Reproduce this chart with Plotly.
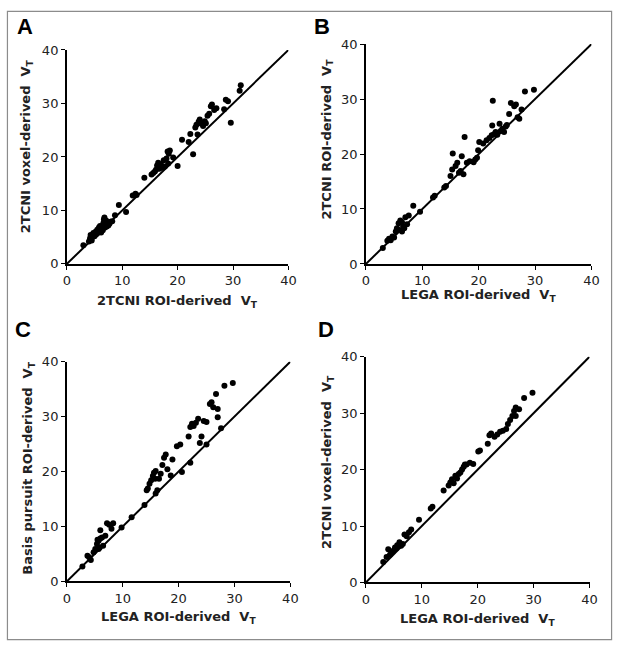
import plotly.graph_objects as go

# ---------------- data ----------------
a_x = [3.0, 4.0, 4.2, 4.3, 4.5, 4.6, 4.8, 5.0, 5.2, 5.3, 5.5, 5.6, 5.8, 5.9, 6.0, 6.1, 6.2, 6.3, 6.4, 6.5,
       6.6, 6.7, 6.8, 6.9, 7.0, 7.1, 7.2, 7.4, 7.5, 7.7, 7.9, 8.2, 8.7, 9.4, 10.7, 11.9, 12.4, 12.6,
       14.0, 15.3, 15.6, 15.9, 16.1, 16.3, 16.5, 16.7, 17.0, 17.3, 17.5, 17.7, 18.0, 18.2, 18.4, 18.6,
       18.3, 19.2, 20.0, 20.8, 22.0, 22.3, 22.8, 23.2, 23.4, 23.6, 23.8, 24.0, 24.3, 24.6, 24.9, 25.1,
       25.4, 25.7, 26.0, 26.2, 26.6, 27.0, 28.4, 28.7, 29.1, 29.6, 31.2, 31.4]
a_y = [3.5, 4.2, 4.8, 5.4, 4.4, 5.0, 5.8, 5.2, 6.0, 5.5, 6.4, 5.8, 6.8, 6.2, 7.1, 6.5, 5.9, 6.6, 7.0, 6.3,
       7.6, 8.3, 8.7, 6.8, 7.3, 8.1, 7.0, 7.8, 7.2, 7.5, 7.9, 8.0, 9.1, 11.0, 9.7, 12.8, 13.1, 12.9,
       16.1, 16.7, 17.0, 17.3, 17.6, 18.4, 18.9, 17.8, 18.6, 18.0, 19.4, 18.2, 19.7, 21.0, 20.6, 21.2,
       18.8, 19.9, 18.3, 23.2, 22.8, 24.3, 20.5, 25.5, 26.0, 24.2, 26.6, 27.0, 26.2, 25.8, 26.7, 26.3,
       27.7, 28.1, 29.5, 29.8, 28.8, 29.1, 28.9, 30.7, 30.4, 26.4, 32.4, 33.4]

b_x = [3.0, 3.8, 4.1, 4.4, 4.7, 5.0, 5.3, 5.5, 5.8, 5.8, 6.1, 6.4, 6.4, 6.6, 6.8, 7.0, 7.3, 7.6, 8.4,
       9.6, 11.9, 12.2, 13.9, 14.2, 15.0, 15.3, 15.4, 15.9, 16.2, 16.5, 16.8, 17.0, 17.3, 17.5, 17.9,
       18.4, 19.1, 19.4, 19.7, 19.9, 20.1, 20.8, 21.4, 21.9, 22.3, 22.4, 22.5, 22.7, 23.0, 23.3, 23.7,
       23.9, 24.2, 24.5, 24.8, 25.0, 25.4, 25.7, 26.3, 26.6, 26.9, 27.2, 27.6, 28.2, 29.8]
b_y = [2.9, 4.2, 4.6, 4.3, 5.0, 4.8, 5.9, 6.5, 6.2, 7.4, 7.9, 5.9, 7.6, 6.8, 6.5, 8.5, 7.2, 8.8, 10.6,
       9.5, 12.1, 12.4, 13.9, 14.2, 16.0, 17.2, 20.1, 17.8, 18.4, 16.6, 16.9, 19.6, 16.3, 23.1, 18.4,
       18.7, 18.5, 19.0, 19.3, 20.7, 22.2, 21.9, 22.5, 22.9, 23.4, 25.2, 29.7, 23.6, 24.0, 23.5, 25.5,
       24.2, 24.6, 24.0, 25.0, 25.3, 27.3, 29.3, 28.7, 29.0, 26.7, 26.4, 28.1, 31.4, 31.7]

c_x = [2.8, 3.7, 4.0, 4.3, 4.8, 5.1, 5.4, 5.5, 5.7, 5.7, 5.9, 6.0, 6.0, 6.3, 6.5, 6.9, 7.2, 7.6, 8.0,
       8.3, 9.8, 11.6, 13.9, 14.3, 14.5, 14.8, 15.1, 15.4, 15.6, 15.8, 15.9, 15.9, 16.2, 16.5, 16.8,
       17.1, 17.4, 17.7, 18.0, 18.6, 18.9, 19.7, 20.3, 20.6, 21.8, 22.1, 22.1, 22.4, 22.7, 23.1, 23.5,
       23.8, 24.1, 24.5, 25.0, 25.0, 25.6, 25.9, 26.2, 26.7, 27.0, 27.0, 27.6, 28.2, 29.7]
c_y = [2.7, 4.7, 4.4, 3.9, 5.3, 5.9, 6.8, 7.6, 7.4, 5.9, 6.2, 9.3, 7.8, 8.0, 6.5, 8.3, 10.6, 10.3, 9.6,
       10.6, 9.8, 11.7, 13.9, 16.6, 16.9, 17.8, 18.4, 19.2, 19.8, 18.7, 20.1, 16.0, 16.6, 18.7, 19.6,
       21.2, 22.5, 23.1, 20.4, 19.3, 22.2, 24.6, 24.9, 19.9, 26.4, 28.1, 21.6, 28.7, 28.3, 28.9, 29.6,
       25.2, 26.4, 29.2, 29.0, 24.9, 32.3, 32.6, 31.7, 34.1, 31.4, 29.9, 27.9, 35.6, 36.1]

d_x = [3.1, 3.7, 4.0, 4.3, 4.6, 4.9, 5.2, 5.4, 5.6, 5.8, 6.0, 6.3, 6.6, 6.9, 7.3, 7.7, 8.1, 9.5,
       11.6, 11.9, 13.9, 14.8, 15.1, 15.4, 15.7, 16.0, 16.3, 16.6, 16.9, 17.2, 17.5, 17.7, 18.0, 18.6,
       19.2, 20.1, 20.4, 21.8, 22.1, 22.4, 23.0, 23.5, 24.0, 24.5, 25.1, 25.4, 25.8, 26.2, 26.5, 26.8,
       26.8, 27.4, 28.3, 29.8]
d_y = [3.6, 4.5, 5.9, 4.9, 5.3, 5.6, 6.2, 6.0, 6.6, 6.4, 7.1, 6.5, 6.8, 8.5, 8.2, 8.9, 9.4, 11.1,
       13.1, 13.4, 16.3, 17.2, 17.7, 18.3, 17.6, 18.9, 18.4, 19.2, 19.5, 20.0, 20.5, 20.9, 20.9, 21.2,
       21.0, 23.2, 23.4, 24.6, 26.1, 26.4, 25.8, 26.2, 26.7, 26.9, 27.2, 28.1, 28.8, 29.5, 30.4, 31.0,
       29.5, 30.7, 32.7, 33.6]

diag = [0, 40]
tick_vals = [0, 10, 20, 30, 40]
panel_letters = ["A", "B", "C", "D"]
x_titles = ["2TCNI ROI-derived  V<sub>T</sub>", "LEGA ROI-derived  V<sub>T</sub>",
            "LEGA ROI-derived  V<sub>T</sub>", "LEGA ROI-derived  V<sub>T</sub>"]
y_titles = ["2TCNI voxel-derived  V<sub>T</sub>", "2TCNI ROI-derived  V<sub>T</sub>",
            "Basis pursuit ROI-derived  V<sub>T</sub>", "2TCNI voxel-derived  V<sub>T</sub>"]

# ---------------- layout helpers ----------------
W, H = 624, 651
# plot areas in pixel coordinates: (left, right, top, bottom)
boxes = [(64, 290, 44, 263), (369, 599, 38, 263), (64, 292, 363, 588), (369, 597, 358, 589)]
letter_pos = [(11, 20), (314, 20), (9, 330), (318, 330)]
xtitle_y = [301, 295, 625, 627]
ytitle_pos = [(23, 143), (330, 135), (25, 472), (330, 466)]

def px(x):
    return x / W

def py(y):
    return 1 - y / H

series = [(a_x, a_y), (b_x, b_y), (c_x, c_y), (d_x, d_y)]

fig = go.Figure()
annotations = []
layout_axes = {}
for i, ((xs, ys), (l, r, t, b)) in enumerate(zip(series, boxes)):
    n = "" if i == 0 else str(i + 1)
    xa, ya = "x" + n, "y" + n
    fig.add_trace(go.Scatter(x=diag, y=diag, mode="lines", xaxis=xa, yaxis=ya,
                             line=dict(color="black", width=2), showlegend=False, hoverinfo="skip"))
    fig.add_trace(go.Scatter(x=xs, y=ys, mode="markers", xaxis=xa, yaxis=ya,
                             marker=dict(color="black", size=6), showlegend=False))
    common = dict(range=[0, 40], tickvals=tick_vals, showgrid=False, zeroline=False,
                  showline=True, linecolor="black", linewidth=1.5, ticks="outside",
                  ticklen=4, tickcolor="black", tickwidth=1.2,
                  tickfont=dict(family="DejaVu Sans", size=13, color="#222222"), fixedrange=True)
    layout_axes["xaxis" + n] = dict(common, domain=[px(l), px(r)], anchor=ya)
    layout_axes["yaxis" + n] = dict(common, domain=[py(b), py(t)], anchor=xa)
    # axis titles
    annotations.append(dict(text="<b>" + x_titles[i] + "</b>", x=px((l + r) / 2), y=py(xtitle_y[i]),
                            xref="paper", yref="paper", xanchor="center", yanchor="middle",
                            showarrow=False, font=dict(family="DejaVu Sans", size=13, color="#222222")))
    annotations.append(dict(text="<b>" + y_titles[i] + "</b>", x=px(ytitle_pos[i][0]),
                            y=py(ytitle_pos[i][1]),
                            xref="paper", yref="paper", xanchor="center", yanchor="middle",
                            textangle=-90, showarrow=False,
                            font=dict(family="DejaVu Sans", size=13, color="#222222")))
    annotations.append(dict(text="<b>" + panel_letters[i] + "</b>", x=px(letter_pos[i][0]),
                            y=py(letter_pos[i][1]), xref="paper", yref="paper",
                            xanchor="left", yanchor="middle", showarrow=False,
                            font=dict(family="Liberation Sans", size=22, color="black")))

fig.update_layout(
    width=W, height=H, margin=dict(l=0, r=0, t=0, b=0),
    paper_bgcolor="white", plot_bgcolor="white",
    annotations=annotations,
    shapes=[dict(type="rect", xref="paper", yref="paper", x0=px(3.5), x1=px(619.5),
                 y0=py(647.5), y1=py(4.5), line=dict(color="#8c8c8c", width=1.2))],
    **layout_axes,
)

fig.write_html("out.html", config={"displayModeBar": False},
               post_script="document.body.style.margin='0';")
